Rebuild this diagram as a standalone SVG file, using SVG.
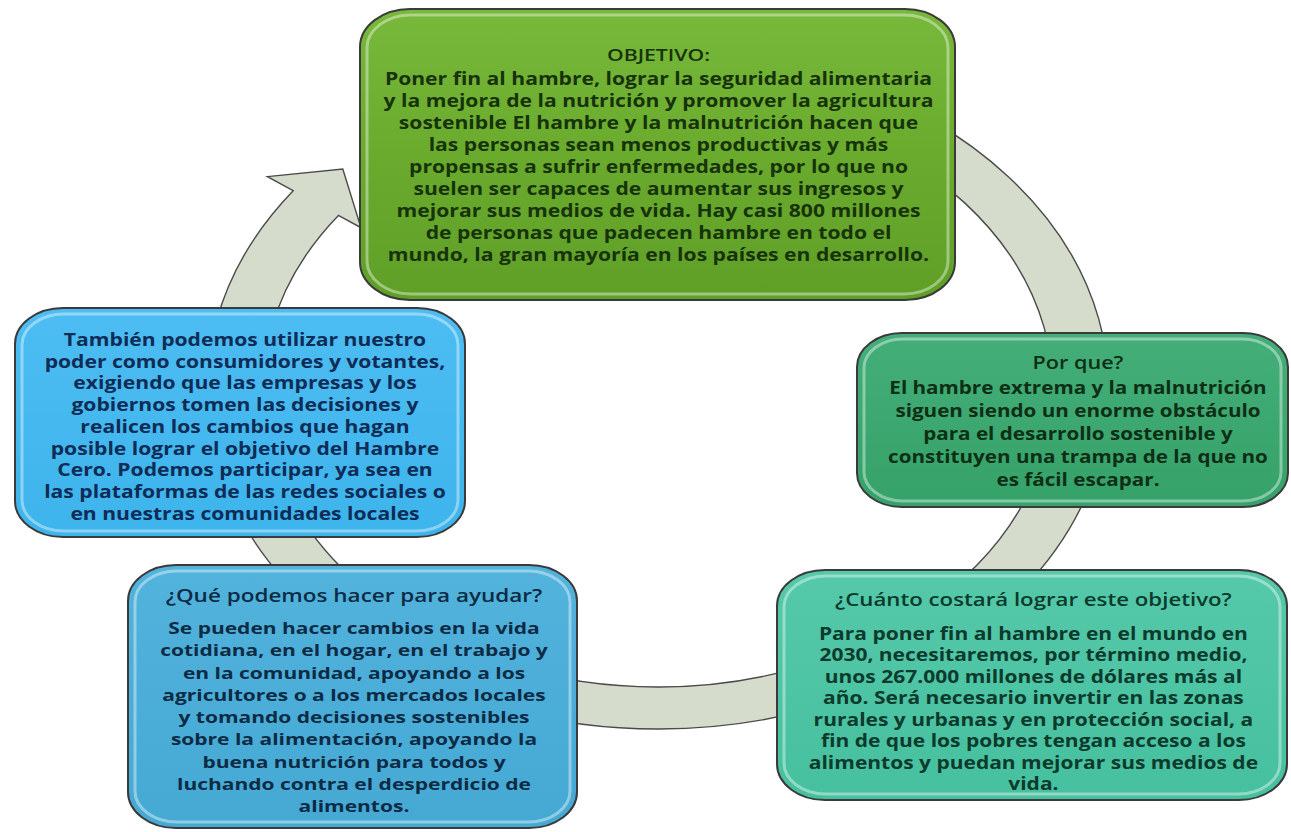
<svg xmlns="http://www.w3.org/2000/svg" width="1291" height="832" viewBox="0 0 1291 832">
<defs>
<linearGradient id="gTop" x1="0" y1="0" x2="0" y2="1"><stop offset="0" stop-color="#78b83a"/><stop offset="0.5" stop-color="#6aab2e"/><stop offset="1" stop-color="#5f9f27"/></linearGradient>
<linearGradient id="gRight" x1="0" y1="0" x2="0" y2="1"><stop offset="0" stop-color="#44ae78"/><stop offset="1" stop-color="#35a269"/></linearGradient>
<linearGradient id="gBR" x1="0" y1="0" x2="0" y2="1"><stop offset="0" stop-color="#55c9a9"/><stop offset="1" stop-color="#46c09f"/></linearGradient>
<linearGradient id="gBL" x1="0" y1="0" x2="0" y2="1"><stop offset="0" stop-color="#52b3dc"/><stop offset="1" stop-color="#45a9d4"/></linearGradient>
<linearGradient id="gL" x1="0" y1="0" x2="0" y2="1"><stop offset="0" stop-color="#4dbdf2"/><stop offset="1" stop-color="#3db4ec"/></linearGradient>
<style>
.box{stroke:#3a3a3a;stroke-width:2}
.bev{fill:none;stroke:#ffffff;stroke-opacity:0.4;stroke-width:3}
.t{font-family:"Open Sans","Liberation Sans",sans-serif;font-weight:700;text-anchor:middle}
.h{font-weight:600}
.ring{fill:#d6dccb;stroke:#4a4a4a;stroke-width:1.4}
</style>
</defs>
<rect width="1291" height="832" fill="#ffffff"/>
<g id="connectors">
<path class="ring" vector-effect="non-scaling-stroke" transform="matrix(1.33 0 0 1 -217.14 0)" d="M 658 51 A 339 339 0 1 1 383.7 190.7 L 364.3 176.6 L 421 169 L 434.7 227.7 L 417.7 215.4 A 297 297 0 1 0 658 93 Z"/>
</g>
<g id="node-objetivo">
<rect class="box" x="360" y="9" width="595" height="291" rx="50" ry="38" fill="url(#gTop)"/>
<rect class="bev" x="367" y="15" width="581" height="279" rx="44" ry="33"/>
<g class="t" fill="#17330b" font-size="16.9" transform="matrix(1.25 0 0 1 -164.6 0)">
<text x="658.5" y="61" class="h" font-size="17">OBJETIVO:</text>
<text x="658.5" y="85">Poner fin al hambre, lograr la seguridad alimentaria</text>
<text x="658.5" y="107">y la mejora de la nutrición y promover la agricultura</text>
<text x="658.5" y="129">sostenible El hambre y la malnutrición hacen que</text>
<text x="658.5" y="151">las personas sean menos productivas y más</text>
<text x="658.5" y="173">propensas a sufrir enfermedades, por lo que no</text>
<text x="658.5" y="195">suelen ser capaces de aumentar sus ingresos y</text>
<text x="658.5" y="217">mejorar sus medios de vida. Hay casi 800 millones</text>
<text x="658.5" y="239">de personas que padecen hambre en todo el</text>
<text x="658.5" y="261">mundo, la gran mayoría en los países en desarrollo.</text>
</g>
</g>
<g id="node-porque">
<rect class="box" x="857" y="333" width="431" height="174" rx="45" ry="34" fill="url(#gRight)"/>
<rect class="bev" x="864" y="339" width="417" height="162" rx="39" ry="29"/>
<g class="t" fill="#0e2f16" font-size="17.2" transform="matrix(1.2 0 0 1 -215.6 0)">
<text x="1078" y="369" class="h" font-size="18">Por que?</text>
<text x="1078" y="394">El hambre extrema y la malnutrición</text>
<text x="1078" y="417">siguen siendo un enorme obstáculo</text>
<text x="1078" y="440">para el desarrollo sostenible y</text>
<text x="1078" y="463">constituyen una trampa de la que no</text>
<text x="1078" y="486">es fácil escapar.</text>
</g>
</g>
<g id="node-costo">
<rect class="box" x="777" y="570" width="510" height="230" rx="48" ry="36" fill="url(#gBR)"/>
<rect class="bev" x="784" y="576" width="496" height="218" rx="42" ry="31"/>
<g class="t" fill="#0c3a2c" font-size="17" transform="matrix(1.235 0 0 1 -241.1 0)">
<text x="1032" y="606" class="h" font-size="18">¿Cuánto costará lograr este objetivo?</text>
<text x="1032" y="640">Para poner fin al hambre en el mundo en</text>
<text x="1032" y="661.5">2030, necesitaremos, por término medio,</text>
<text x="1032" y="683">unos 267.000 millones de dólares más al</text>
<text x="1032" y="704.5">año. Será necesario invertir en las zonas</text>
<text x="1032" y="726">rurales y urbanas y en protección social, a</text>
<text x="1032" y="747.5">fin de que los pobres tengan acceso a los</text>
<text x="1032" y="769">alimentos y puedan mejorar sus medios de</text>
<text x="1032" y="790.5">vida.</text>
</g>
</g>
<g id="node-ayudar">
<rect class="box" x="128" y="565" width="449" height="263" rx="48" ry="36" fill="url(#gBL)"/>
<rect class="bev" x="135" y="571" width="435" height="251" rx="42" ry="31"/>
<g class="t" fill="#0d2b45" font-size="16.8" transform="matrix(1.25 0 0 1 -88.5 0)">
<text x="354" y="602" class="h" font-size="18">¿Qué podemos hacer para ayudar?</text>
<text x="354" y="634">Se pueden hacer cambios en la vida</text>
<text x="354" y="656.3">cotidiana, en el hogar, en el trabajo y</text>
<text x="354" y="678.6">en la comunidad, apoyando a los</text>
<text x="354" y="700.9">agricultores o a los mercados locales</text>
<text x="354" y="723.2">y tomando decisiones sostenibles</text>
<text x="354" y="745.5">sobre la alimentación, apoyando la</text>
<text x="354" y="767.8">buena nutrición para todos y</text>
<text x="354" y="790.1">luchando contra el desperdicio de</text>
<text x="354" y="812.4">alimentos.</text>
</g>
</g>
<g id="node-tambien">
<rect class="box" x="15" y="308" width="450" height="229" rx="48" ry="36" fill="url(#gL)"/>
<rect class="bev" x="22" y="314" width="436" height="217" rx="42" ry="31"/>
<g class="t" fill="#0e2c56" font-size="16.9" transform="matrix(1.25 0 0 1 -61.25 0)">
<text x="245" y="346">También podemos utilizar nuestro</text>
<text x="245" y="367.75">poder como consumidores y votantes,</text>
<text x="245" y="389.5">exigiendo que las empresas y los</text>
<text x="245" y="411.25">gobiernos tomen las decisiones y</text>
<text x="245" y="433">realicen los cambios que hagan</text>
<text x="245" y="454.75">posible lograr el objetivo del Hambre</text>
<text x="245" y="476.5">Cero. Podemos participar, ya sea en</text>
<text x="245" y="498.25">las plataformas de las redes sociales o</text>
<text x="245" y="520">en nuestras comunidades locales</text>
</g>
</g>
</svg>
